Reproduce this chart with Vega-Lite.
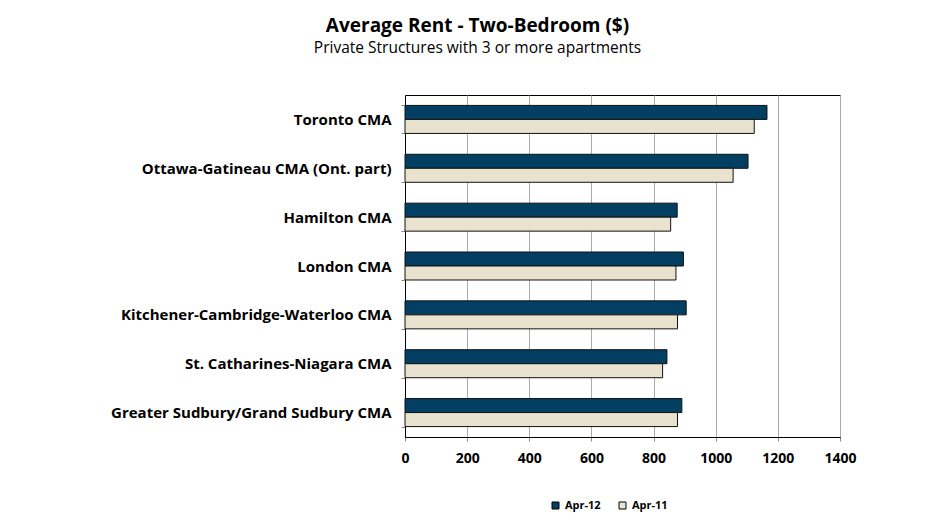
{
  "$schema": "https://vega.github.io/schema/vega-lite/v6.json",
  "width": 435,
  "height": 342,
  "autosize": {"type": "none"},
  "padding": {"left": 405, "top": 95, "right": 107, "bottom": 83},
  "background": "white",
  "title": {
    "text": "Average Rent - Two-Bedroom ($)",
    "subtitle": "Private Structures with 3 or more apartments",
    "anchor": "middle",
    "dx": -145,
    "offset": 32,
    "font": "Open Sans",
    "fontSize": 19,
    "fontWeight": "bold",
    "color": "#000000",
    "subtitleFont": "Open Sans",
    "subtitleFontSize": 15.5,
    "subtitleColor": "#000000",
    "subtitlePadding": 5
  },
  "data": {
    "values": [
      {"region": "Toronto CMA", "period": "Apr-12", "rent": 1165},
      {"region": "Toronto CMA", "period": "Apr-11", "rent": 1124},
      {"region": "Ottawa-Gatineau CMA (Ont. part)", "period": "Apr-12", "rent": 1104},
      {"region": "Ottawa-Gatineau CMA (Ont. part)", "period": "Apr-11", "rent": 1056},
      {"region": "Hamilton CMA", "period": "Apr-12", "rent": 876},
      {"region": "Hamilton CMA", "period": "Apr-11", "rent": 855},
      {"region": "London CMA", "period": "Apr-12", "rent": 896},
      {"region": "London CMA", "period": "Apr-11", "rent": 872},
      {"region": "Kitchener-Cambridge-Waterloo CMA", "period": "Apr-12", "rent": 905},
      {"region": "Kitchener-Cambridge-Waterloo CMA", "period": "Apr-11", "rent": 877},
      {"region": "St. Catharines-Niagara CMA", "period": "Apr-12", "rent": 843},
      {"region": "St. Catharines-Niagara CMA", "period": "Apr-11", "rent": 829},
      {"region": "Greater Sudbury/Grand Sudbury CMA", "period": "Apr-12", "rent": 891},
      {"region": "Greater Sudbury/Grand Sudbury CMA", "period": "Apr-11", "rent": 877}
    ]
  },
  "mark": {"type": "bar", "stroke": "#111111", "strokeWidth": 1},
  "encoding": {
    "y": {
      "field": "region",
      "type": "nominal",
      "sort": ["Toronto CMA", "Ottawa-Gatineau CMA (Ont. part)", "Hamilton CMA", "London CMA", "Kitchener-Cambridge-Waterloo CMA", "St. Catharines-Niagara CMA", "Greater Sudbury/Grand Sudbury CMA"],
      "scale": {"paddingInner": 0.427, "paddingOuter": 0.2135},
      "axis": {
        "title": null,
        "tickBand": "extent",
        "labelFont": "Open Sans",
        "labelFontWeight": "bold",
        "labelFontSize": 15,
        "labelColor": "#000000",
        "labelPadding": 10,
        "labelLimit": 400,
        "domainColor": "#000000",
        "ticks": true,
        "tickSize": 4,
        "tickColor": "#888888",
        "grid": false
      }
    },
    "x": {
      "field": "rent",
      "type": "quantitative",
      "scale": {"domain": [0, 1400], "nice": false},
      "axis": {
        "title": null,
        "values": [0, 200, 400, 600, 800, 1000, 1200, 1400],
        "format": "d",
        "labelFont": "Open Sans",
        "labelFontWeight": "bold",
        "labelFontSize": 14,
        "labelColor": "#000000",
        "labelPadding": 10,
        "labelFlush": false,
        "grid": true,
        "gridColor": "#aaaaaa",
        "domainColor": "#000000",
        "tickColor": "#888888",
        "tickSize": 4
      }
    },
    "yOffset": {"field": "period", "type": "nominal", "sort": ["Apr-12", "Apr-11"]},
    "color": {
      "field": "period",
      "type": "nominal",
      "scale": {"domain": ["Apr-12", "Apr-11"], "range": ["#033f63", "#e8e2cf"]},
      "legend": {
        "title": null,
        "orient": "none",
        "legendX": 145,
        "legendY": 405,
        "direction": "horizontal",
        "symbolType": "square",
        "symbolSize": 49,
        "symbolStrokeColor": "#000000",
        "symbolStrokeWidth": 1,
        "labelFont": "Open Sans",
        "labelFontWeight": "bold",
        "labelFontSize": 11,
        "labelColor": "#000000",
        "labelOffset": 4,
        "columnPadding": 16
      }
    }
  },
  "config": {
    "view": {"stroke": "#000000", "strokeWidth": 1}
  }
}
